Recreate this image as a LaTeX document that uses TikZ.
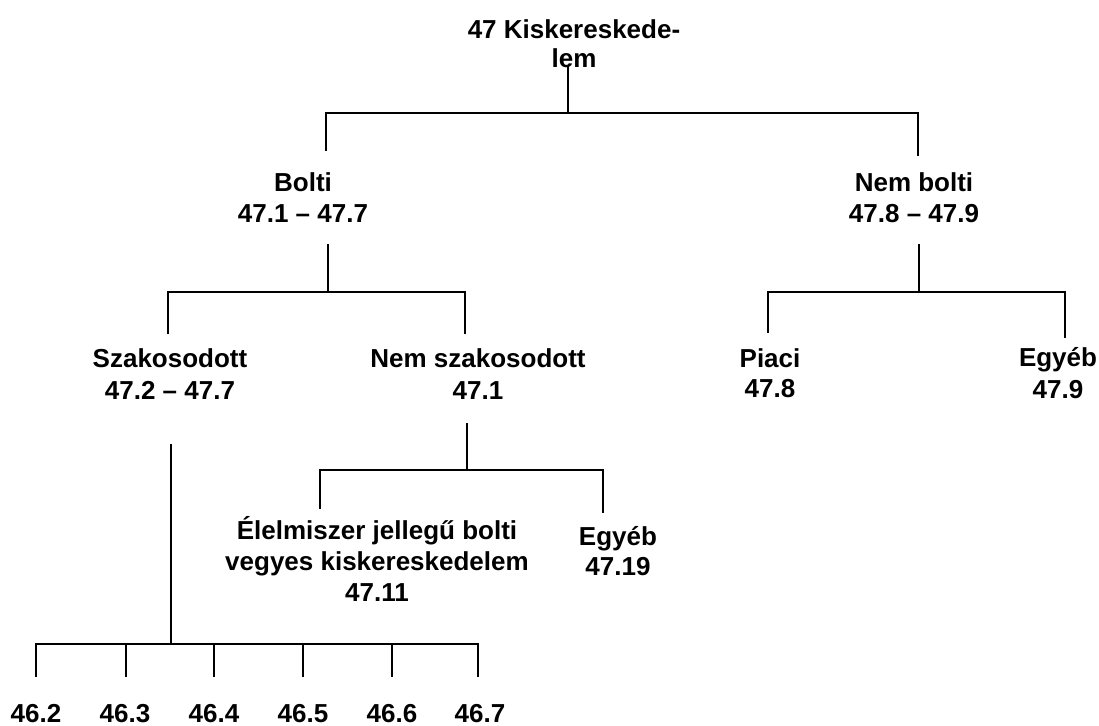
\documentclass[tikz,border=0pt]{standalone}
\usepackage{fontspec}
\setmainfont{Liberation Sans}
\begin{document}
\begin{tikzpicture}[x=1pt,y=-1pt,
  lbl/.style={font=\bfseries\fontsize{26}{31}\selectfont, align=center, inner sep=0pt, anchor=base},
  ln/.style={line width=1.6pt, line cap=rect}]
\useasboundingbox (0,0) rectangle (1099,725);
% nodes (anchor = baseline of the last line)
\node[lbl, font=\bfseries\fontsize{26}{29}\selectfont] (root) at (574,67) {47 Kiskereskede-\\lem};
\node[lbl] (bolti) at (303,222) {Bolti\\47.1 – 47.7};
\node[lbl] (nembolti) at (914,222) {Nem bolti\\47.8 – 47.9};
\node[lbl, font=\bfseries\fontsize{26}{32}\selectfont] (szak) at (170,399) {Szakosodott\\47.2 – 47.7};
\node[lbl, font=\bfseries\fontsize{26}{32}\selectfont] (nemszak) at (478,399) {Nem szakosodott\\47.1};
\node[lbl, font=\bfseries\fontsize{26}{30}\selectfont] (piaci) at (770,397) {Piaci\\47.8};
\node[lbl, font=\bfseries\fontsize{26}{32}\selectfont] (egyeb) at (1058,398) {Egyéb\\47.9};
\node[lbl] (elel) at (377,601) {Élelmiszer jellegű bolti\\vegyes kiskereskedelem\\47.11};
\node[lbl, font=\bfseries\fontsize{26}{30}\selectfont] (egyebb) at (618,575) {Egyéb\\47.19};
\foreach \n/\x in {2/36,3/125,4/214,5/303,6/392,7/480}
  \node[lbl] (k\n) at (\x,722) {46.\n};
% coordinates
\coordinate (r0) at (568,67);  \coordinate (r1) at (568,113);
\coordinate (rL) at (326,113); \coordinate (rR) at (918,113);
\coordinate (rLd) at (326,150); \coordinate (rRd) at (918,155);
\coordinate (b0) at (328,245); \coordinate (b1) at (328,292);
\coordinate (bL) at (168,292); \coordinate (bR) at (465,292);
\coordinate (bLd) at (168,333); \coordinate (bRd) at (465,333);
\coordinate (n0) at (919,245); \coordinate (n1) at (919,292);
\coordinate (nL) at (768,292); \coordinate (nR) at (1065,292);
\coordinate (nLd) at (768,332); \coordinate (nRd) at (1065,337);
\coordinate (m0) at (467,424); \coordinate (m1) at (467,470);
\coordinate (mL) at (320,470); \coordinate (mR) at (603,470);
\coordinate (mLd) at (320,508); \coordinate (mRd) at (603,512);
\coordinate (s0) at (171,445); \coordinate (s1) at (171,644);
% connectors
\draw[ln] (r0) -- (r1);
\draw[ln] (rLd) -- (rL) -- (rR) -- (rRd);
\draw[ln] (b0) -- (b1);
\draw[ln] (bLd) -- (bL) -- (bR) -- (bRd);
\draw[ln] (n0) -- (n1);
\draw[ln] (nLd) -- (nL) -- (nR) -- (nRd);
\draw[ln] (m0) -- (m1);
\draw[ln] (mLd) -- (mL) -- (mR) -- (mRd);
\draw[ln] (s0) -- (s1);
\foreach \n/\x in {2/36,3/126,4/214,5/303,6/392,7/478} {
  \coordinate (t\n) at (\x,644);
  \coordinate (d\n) at (\x,676);
  \draw[ln] (t\n) -- (d\n);
}
\draw[ln] (t2) -- (t7);
\end{tikzpicture}
\end{document}
